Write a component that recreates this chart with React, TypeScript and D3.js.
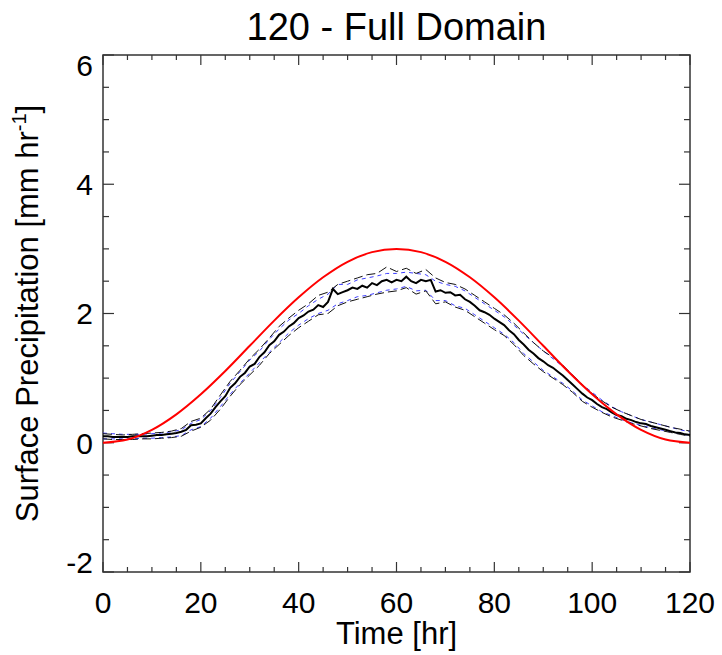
import React from 'react';
import * as d3 from 'd3';

// hours for the 1-hr mean series
const meanHours = d3.range(0, 121, 1);
const meanPrecip = [
  0.1, 0.1, 0.09, 0.09, 0.09, 0.09, 0.1, 0.1, 0.1, 0.1,
  0.11, 0.12, 0.12, 0.13, 0.14, 0.15, 0.17, 0.2, 0.27, 0.28,
  0.3, 0.38, 0.45, 0.55, 0.64, 0.72, 0.85, 0.92, 1.02, 1.08,
  1.18, 1.22, 1.33, 1.4, 1.51, 1.57, 1.67, 1.72, 1.8, 1.85,
  1.93, 1.97, 2.03, 2.06, 2.13, 2.1, 2.18, 2.38, 2.3, 2.33,
  2.36, 2.4, 2.38, 2.43, 2.4, 2.47, 2.44, 2.5, 2.52, 2.48,
  2.52, 2.5, 2.57, 2.5, 2.47, 2.52, 2.5, 2.52, 2.34, 2.36,
  2.32, 2.33, 2.28, 2.29, 2.22, 2.18, 2.12, 2.05, 2.02, 1.98,
  1.92, 1.87, 1.82, 1.74, 1.68, 1.59, 1.52, 1.44, 1.38, 1.31,
  1.26, 1.2, 1.16, 1.1, 1.04, 0.97, 0.9, 0.83, 0.76, 0.7,
  0.66, 0.6, 0.55, 0.52, 0.47, 0.43, 0.41, 0.37, 0.35, 0.32,
  0.3, 0.29, 0.26, 0.24, 0.22, 0.2, 0.18, 0.16, 0.15, 0.13,
  0.12,
];

// hours for the spread series (every 2 hr)
const spreadHours = d3.range(0, 121, 2);
const upperBlack = [
  0.14, 0.13, 0.12, 0.13, 0.14, 0.15, 0.16, 0.18, 0.22, 0.33,
  0.38, 0.52, 0.74, 0.95, 1.12, 1.3, 1.45, 1.62, 1.8, 1.93,
  2.05, 2.15, 2.28, 2.33, 2.45, 2.5, 2.55, 2.6, 2.62, 2.72,
  2.65, 2.7, 2.62, 2.68, 2.55, 2.48, 2.45, 2.38, 2.28, 2.18,
  2.08, 1.98, 1.85, 1.7, 1.55, 1.42, 1.32, 1.2, 1.05, 0.9,
  0.76, 0.65, 0.55, 0.48, 0.42, 0.36, 0.32, 0.28, 0.24, 0.21,
  0.18,
];
const lowerBlack = [
  0.06, 0.05, 0.05, 0.05, 0.06, 0.06, 0.07, 0.08, 0.1, 0.18,
  0.24, 0.35, 0.52, 0.72, 0.9, 1.05, 1.2, 1.38, 1.52, 1.66,
  1.78, 1.88, 1.98, 2.0, 2.12, 2.18, 2.22, 2.26, 2.3, 2.33,
  2.35, 2.4, 2.3, 2.35, 2.15, 2.18, 2.1, 2.05, 1.95, 1.85,
  1.75, 1.66, 1.52, 1.35, 1.22, 1.1, 1.0, 0.9, 0.78, 0.64,
  0.55, 0.47, 0.4, 0.35, 0.3, 0.26, 0.22, 0.19, 0.16, 0.13,
  0.1,
];
const upperBlue = [
  0.15, 0.14, 0.13, 0.13, 0.13, 0.14, 0.15, 0.17, 0.2, 0.3,
  0.36, 0.5, 0.7, 0.92, 1.1, 1.28, 1.42, 1.6, 1.76, 1.9,
  2.0, 2.12, 2.22, 2.3, 2.45, 2.45, 2.52, 2.55, 2.58, 2.62,
  2.62, 2.64, 2.62, 2.6, 2.5, 2.45, 2.42, 2.35, 2.25, 2.15,
  2.05, 1.95, 1.82, 1.68, 1.55, 1.42, 1.3, 1.18, 1.05, 0.9,
  0.78, 0.66, 0.56, 0.48, 0.42, 0.36, 0.32, 0.28, 0.24, 0.2,
  0.17,
];
const lowerBlue = [
  0.06, 0.06, 0.06, 0.06, 0.07, 0.07, 0.08, 0.09, 0.11, 0.2,
  0.25, 0.38, 0.56, 0.75, 0.92, 1.08, 1.24, 1.4, 1.55, 1.7,
  1.82, 1.92, 2.0, 2.05, 2.15, 2.2, 2.26, 2.28, 2.32, 2.36,
  2.38, 2.42, 2.35, 2.36, 2.2, 2.2, 2.12, 2.08, 1.98, 1.88,
  1.78, 1.68, 1.55, 1.38, 1.25, 1.12, 1.02, 0.92, 0.8, 0.66,
  0.57, 0.48, 0.42, 0.36, 0.31, 0.27, 0.23, 0.2, 0.17, 0.14,
  0.11,
];

// prescribed forcing (every 5 hr)
const forcingHours = d3.range(0, 121, 5);
const forcingPrecip = [
  0, 0.05, 0.2, 0.44, 0.75, 1.11, 1.5, 1.89, 2.25, 2.56, 2.8, 2.95,
  3.0, 2.95, 2.8, 2.56, 2.25, 1.89, 1.5, 1.11, 0.75, 0.44, 0.2, 0.05, 0,
];

const xTickLabels = [0, 20, 40, 60, 80, 100, 120];
const yTickLabels = [-2, 0, 2, 4, 6];

const W = 722;
const H = 655;
const left = 103;
const right = 690;
const top = 55;
const bottom = 572;
const font = 'Liberation Sans, Arial, Helvetica, sans-serif';

export default function App() {
  const x = d3.scaleLinear().domain([0, 120]).range([left, right]);
  const y = d3.scaleLinear().domain([-2, 6]).range([bottom, top]);

  const line = (hours: number[]) =>
    d3.line<number>()
      .x((d, i) => x(hours[i]))
      .y((d) => y(d));

  const smooth = d3.line<number>()
    .x((d, i) => x(forcingHours[i]))
    .y((d) => y(d))
    .curve(d3.curveCatmullRom);

  const xMinor = d3.range(0, 121, 5);
  const yMinor = d3.range(-2, 6.01, 0.5);
  const axisColor = '#333';

  const clampLabel = (v: number) => {
    const py = y(v);
    return Math.min(Math.max(py, top + 10), bottom - 10);
  };

  return (
    <svg width={W} height={H} style={{ position: 'absolute', left: 0, top: 0, background: 'white' }}>
      <rect x={0} y={0} width={W} height={H} fill="white" />

      <text x={(left + right) / 2} y={40} textAnchor="middle" fontFamily={font} fontSize={38} fill="#000">
        120 - Full Domain
      </text>

      {/* frame */}
      <rect x={left} y={top} width={right - left} height={bottom - top} fill="none" stroke={axisColor} strokeWidth={1.5} />

      {/* x ticks, bottom and top */}
      {xMinor.map((t) => {
        const len = t % 20 === 0 ? 10 : 5;
        return (
          <g key={'xt' + t} stroke={axisColor} strokeWidth={1.2}>
            <line x1={x(t)} x2={x(t)} y1={bottom} y2={bottom - len} />
            <line x1={x(t)} x2={x(t)} y1={top} y2={top + len} />
          </g>
        );
      })}
      {/* y ticks, left and right */}
      {yMinor.map((v) => {
        const len = Math.abs(v % 2) < 1e-6 ? 11 : 6;
        return (
          <g key={'yt' + v} stroke={axisColor} strokeWidth={1.2}>
            <line x1={left} x2={left + len} y1={y(v)} y2={y(v)} />
            <line x1={right} x2={right - len} y1={y(v)} y2={y(v)} />
          </g>
        );
      })}

      {xTickLabels.map((t) => (
        <text key={'xl' + t} x={x(t)} y={613} textAnchor="middle" fontFamily={font} fontSize={30} fill="#000">
          {t}
        </text>
      ))}
      {yTickLabels.map((v) => (
        <text key={'yl' + v} x={93} y={clampLabel(v)} dy="0.36em" textAnchor="end" fontFamily={font} fontSize={30} fill="#000">
          {v}
        </text>
      ))}

      <text x={(left + right) / 2} y={644} textAnchor="middle" fontFamily={font} fontSize={31} fill="#000">
        Time [hr]
      </text>
      <text
        transform={`translate(38, ${(top + bottom) / 2}) rotate(-90)`}
        textAnchor="middle"
        fontFamily={font}
        fontSize={31}
        fill="#000"
      >
        Surface Precipitation [mm hr<tspan fontSize={20} dy={-12}>-1</tspan><tspan dy={12}>]</tspan>
      </text>

      <g fill="none">
        <path d={line(spreadHours)(lowerBlue) || ''} stroke="#3b3bff" strokeWidth={1} strokeDasharray="4,4" />
        <path d={line(spreadHours)(upperBlue) || ''} stroke="#3b3bff" strokeWidth={1} strokeDasharray="4,4" />
        <path d={line(spreadHours)(lowerBlack) || ''} stroke="#111" strokeWidth={1} strokeDasharray="9,4" />
        <path d={line(spreadHours)(upperBlack) || ''} stroke="#111" strokeWidth={1} strokeDasharray="9,4" />
        <path d={line(meanHours)(meanPrecip) || ''} stroke="#000" strokeWidth={2} />
        <path d={smooth(forcingPrecip) || ''} stroke="#ff0000" strokeWidth={2} />
      </g>
    </svg>
  );
}
